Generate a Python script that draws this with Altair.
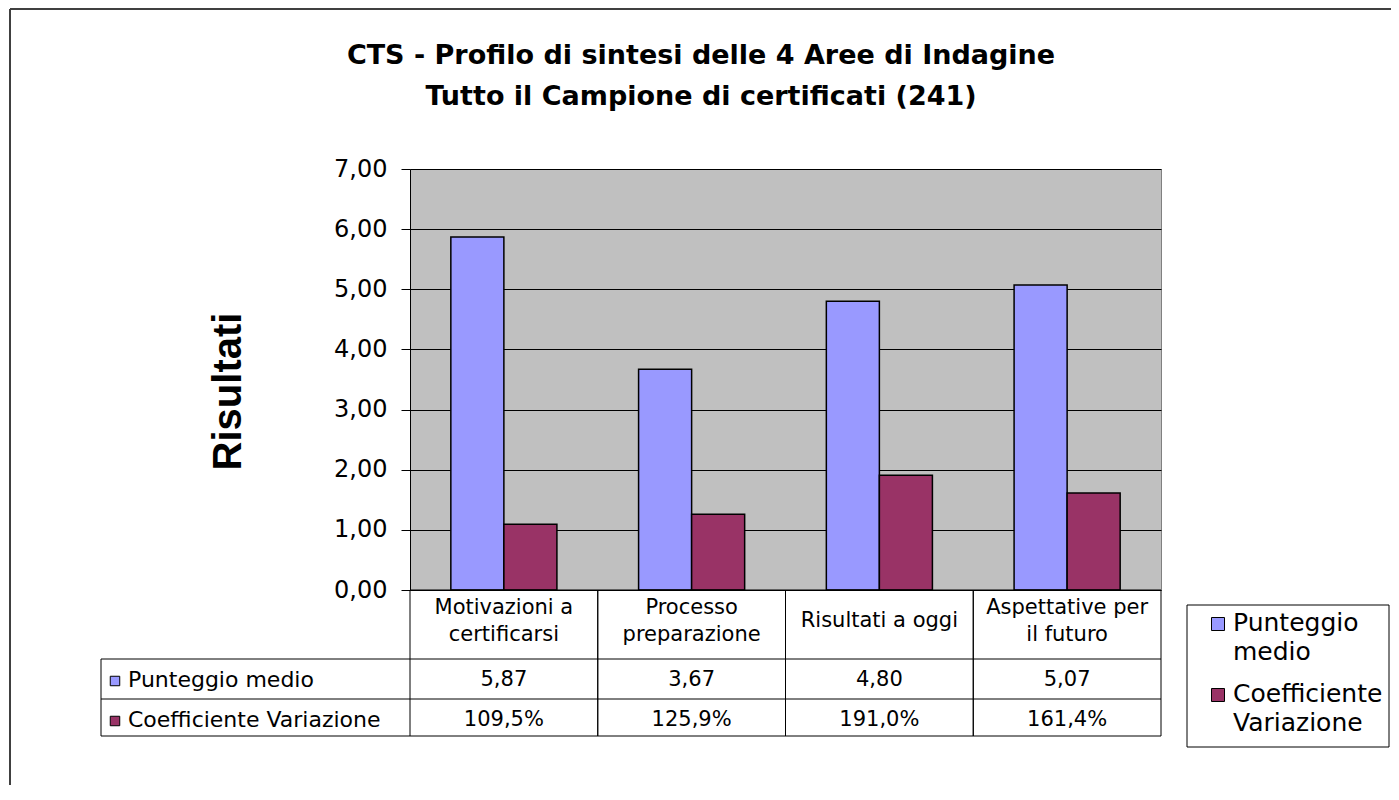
import altair as alt
import pandas as pd

# ---------------- data ----------------
categories = ["Motivazioni a\ncertificarsi", "Processo\npreparazione",
              "Risultati a oggi", "Aspettative per\nil futuro"]
series = ["Punteggio medio", "Coefficiente Variazione"]
punteggio_medio = [5.87, 3.67, 4.80, 5.07]
coeff_variazione_pct = [109.5, 125.9, 191.0, 161.4]
y_ticks = [0, 1, 2, 3, 4, 5, 6, 7]
title_lines = ["CTS - Profilo di sintesi delle 4 Aree di Indagine",
               "Tutto il Campione di certificati (241)"]
y_title = "Risultati"
colors = ["#9999FF", "#993366"]

rows = []
for c, p, v in zip(categories, punteggio_medio, coeff_variazione_pct):
    rows.append({"cat": c, "serie": series[0], "value": p,
                 "label": f"{p:.2f}".replace(".", ",")})
    rows.append({"cat": c, "serie": series[1], "value": v / 100,
                 "label": f"{v:.1f}".replace(".", ",") + "%"})
df = pd.DataFrame(rows)
df_cats = pd.DataFrame({"cat": categories})
df_series = pd.DataFrame({"serie": series})
one = pd.DataFrame({"k": [0]})

# ---------------- layout (view coordinates) ----------------
W, H = 751, 421
FONT = "DejaVu Sans"
ROW1_TOP, ROW2_TOP, TABLE_BOTTOM = 490, 530, 567
TABLE_LEFT = -309

x_scale = alt.Scale(paddingInner=0, paddingOuter=0)
X = alt.X("cat:N", sort=categories, scale=x_scale, axis=None)
color = alt.Color("serie:N", sort=series,
                  scale=alt.Scale(domain=series, range=colors), legend=None)

layers = []

# bars
bars = alt.Chart(df).mark_bar(stroke="black", strokeWidth=1.5).encode(
    x=X,
    xOffset=alt.XOffset("serie:N", sort=series,
                        scale=alt.Scale(paddingInner=0, paddingOuter=0.77)),
    y=alt.Y("value:Q", scale=alt.Scale(domain=[0, 7], nice=False),
            axis=alt.Axis(values=y_ticks,
                          labelExpr="replace(format(datum.value, '.2f'), '.', ',')",
                          labelFont=FONT, labelFontSize=24, labelColor="black",
                          labelPadding=14, labelOverlap=False,
                          tickSize=9, tickColor="black", domainColor="black",
                          grid=True, gridColor="black", gridWidth=1,
                          title=y_title, titleFont="Liberation Sans",
                          titleFontSize=40, titleFontWeight="bold",
                          titleColor="black", titleX=-182, titleY=222,
                          titleAngle=270, titleAlign="center",
                          titleBaseline="middle")),
    color=color,
)
layers.append(bars)

# plot bottom border (black)
layers.append(alt.Chart(one).mark_rule(color="black", strokeWidth=1).encode(
    x=alt.value(0), x2=alt.value(W), y=alt.value(H)))

# table horizontal lines
for yy in [ROW1_TOP, ROW2_TOP, TABLE_BOTTOM]:
    layers.append(alt.Chart(one).mark_rule(color="black", strokeWidth=1).encode(
        x=alt.value(TABLE_LEFT), x2=alt.value(W), y=alt.value(yy)))
# table vertical lines
layers.append(alt.Chart(one).mark_rule(color="black", strokeWidth=1).encode(
    x=alt.value(TABLE_LEFT), y=alt.value(ROW1_TOP), y2=alt.value(TABLE_BOTTOM)))
for bp in [0, 1]:
    layers.append(alt.Chart(df_cats).mark_rule(color="black", strokeWidth=1).encode(
        x=alt.X("cat:N", sort=categories, scale=x_scale, axis=None, bandPosition=bp),
        y=alt.value(H), y2=alt.value(TABLE_BOTTOM)))

# table header text (two-line and one-line category names)
header_multi = alt.Chart(df_cats).transform_filter(
    "indexof(datum.cat, '\\n') >= 0")
header_single = alt.Chart(df_cats).transform_filter(
    "indexof(datum.cat, '\\n') < 0")
layers.append(header_multi.mark_text(
    font=FONT, fontSize=21, color="black", lineBreak="\n", lineHeight=27,
    baseline="middle", align="center").encode(
    x=X, y=alt.value(439), text="cat:N"))
layers.append(header_single.mark_text(
    font=FONT, fontSize=21, color="black",
    baseline="middle", align="center").encode(
    x=X, y=alt.value(452), text="cat:N"))

# table values and row labels
row_y = [511, 551]
for i, s in enumerate(series):
    sub = alt.Chart(df).transform_filter(alt.datum.serie == s)
    layers.append(sub.mark_text(font=FONT, fontSize=21, color="black",
                                baseline="middle", align="center").encode(
        x=X, y=alt.value(row_y[i]), text="label:N"))
    srow = alt.Chart(df_series).transform_filter(alt.datum.serie == s)
    layers.append(srow.mark_square(size=90, filled=True, opacity=1,
                                   stroke="black", strokeWidth=1).encode(
        x=alt.value(-295), y=alt.value(row_y[i] + 1), color=color))
    layers.append(srow.mark_text(font=FONT, fontSize=22, color="black",
                                 baseline="middle", align="left").encode(
        x=alt.value(-282), y=alt.value(row_y[i]), text="serie:N"))

# legend box
layers.append(alt.Chart(one).mark_rect(fill="white", stroke="black",
                                       strokeWidth=1).encode(
    x=alt.value(777), x2=alt.value(979), y=alt.value(436), y2=alt.value(578)))
leg_y = [462, 533]
for i, s in enumerate(series):
    srow = alt.Chart(df_series).transform_filter(alt.datum.serie == s)
    layers.append(srow.mark_square(size=169, filled=True, opacity=1,
                                   stroke="black", strokeWidth=1).encode(
        x=alt.value(808), y=alt.value(leg_y[i] - 7), color=color))
    layers.append(srow.mark_text(font=FONT, fontSize=25, color="black",
                                 baseline="alphabetic", align="left",
                                 lineBreak=" ", lineHeight=29).encode(
        x=alt.value(823), y=alt.value(leg_y[i]), text="serie:N"))

# chart title
title_df = pd.DataFrame({"t": title_lines, "i": [0, 1]})
title_y = [-113, -72]
for i in range(2):
    layers.append(alt.Chart(title_df).transform_filter(alt.datum.i == i).mark_text(
        font=FONT, fontSize=27, fontWeight="bold", color="black",
        baseline="middle", align="center").encode(
        x=alt.value(291), y=alt.value(title_y[i]), text="t:N"))

# outer frame (top and left edges)
layers.append(alt.Chart(one).mark_rule(color="#404040", strokeWidth=2).encode(
    x=alt.value(-400), x2=alt.value(981), y=alt.value(-160)))
layers.append(alt.Chart(one).mark_rule(color="#404040", strokeWidth=2).encode(
    x=alt.value(-400), y=alt.value(-160), y2=alt.value(H + 195)))

chart = alt.layer(*layers).properties(
    width=W, height=H, autosize="none",
    padding={"left": 402, "top": 161, "right": 230, "bottom": 195},
    background="white",
).configure_view(fill="#C0C0C0", stroke="#808080", strokeWidth=1)

chart.save("out.html", embed_options={"renderer": "svg", "actions": False})
